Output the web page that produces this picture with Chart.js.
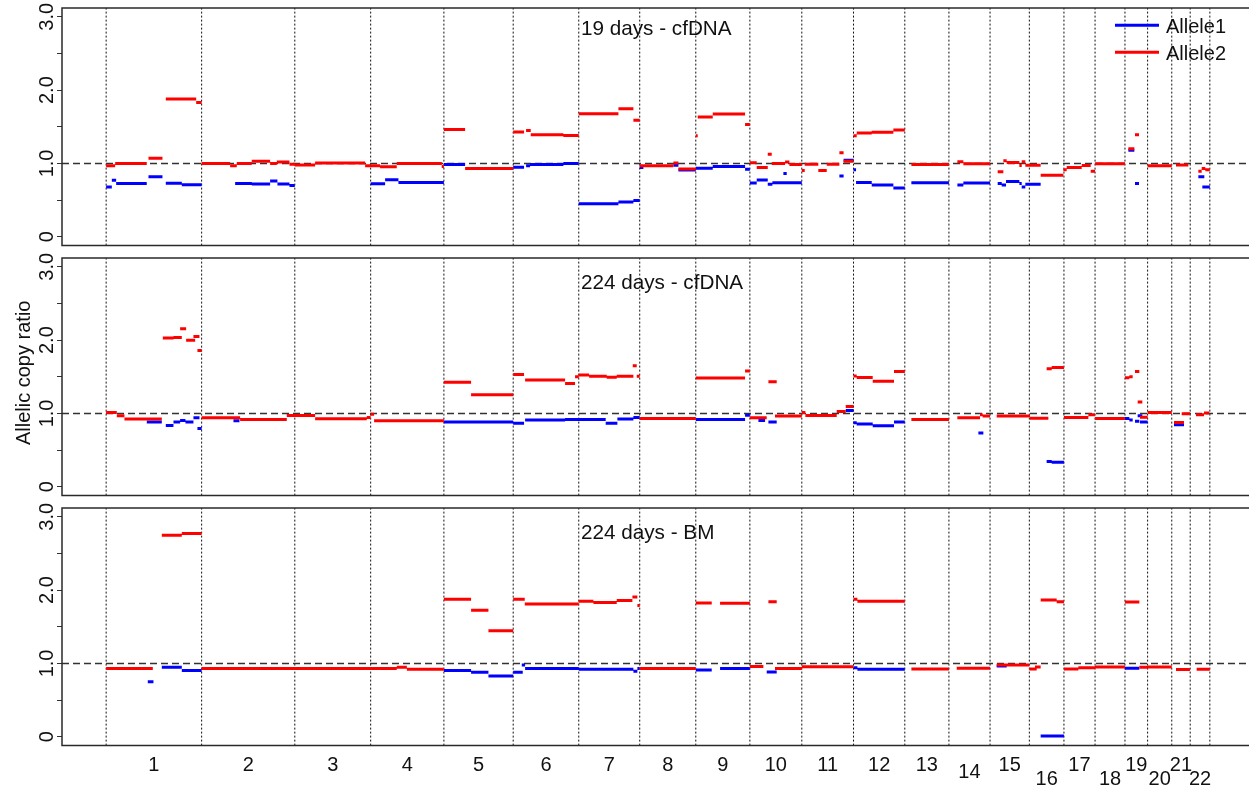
<!DOCTYPE html>
<html><head><meta charset="utf-8">
<script src="https://cdn.jsdelivr.net/npm/chart.js@4.4.1/dist/chart.umd.min.js"></script>
<style>
html,body{margin:0;padding:0;background:#fff;overflow:hidden;}
#wrap{position:relative;width:1249px;height:786px;overflow:hidden;background:#fff;}
canvas{position:absolute;left:0;}
</style></head><body>
<div id="wrap">
<canvas id="p0" width="1262" height="250" style="top:0;width:1262px;height:250px"></canvas>
<canvas id="p1" width="1262" height="250" style="top:250px;width:1262px;height:250px"></canvas>
<canvas id="p2" width="1262" height="286" style="top:500px;width:1262px;height:286px"></canvas>
</div>
<script>
// ---------- data ----------
const chromosomes = ['1','2','3','4','5','6','7','8','9','10','11','12','13','14','15','16','17','18','19','20','21','22'];
const chromLengthsMb = [249.25,243.20,198.02,191.15,180.92,171.12,159.14,146.36,141.21,135.53,135.01,133.85,115.17,107.35,102.53,90.35,81.20,78.08,59.13,63.03,48.13,51.30];
const panelTitles = ['19 days - cfDNA','224 days - cfDNA','224 days - BM'];
const seriesNames = ['Allele1','Allele2'];
const yTickValues = [0,0.5,1,1.5,2,2.5,3];
const yTickLabels = ['0','','1.0','','2.0','','3.0'];
const yAxisTitle = 'Allelic copy ratio';
const referenceRatio = 1.0;

// segments: [genome start Mb, genome end Mb, allelic copy ratio]
const day19_allele1 = [[0,14.8,0.68],[14.8,26.1,0.77],[26.1,106,0.727],[110.5,147,0.818],[155.7,197.5,0.73],[197.5,249.25,0.71],
[336.7,380.2,0.727],[380.2,428,0.72],[428,447.1,0.76],[447.1,478.5,0.72],[478.5,492.45,0.70],
[690.47,728.2,0.723],[728.2,763,0.777],[763,881.62,0.74],
[881.62,937,0.986],
[1062.54,1090.9,0.95],[1096.2,1106.6,0.97],[1106.6,1193.6,0.986],[1193.6,1233.66,1.0],
[1233.66,1337.2,0.45],[1337.2,1376.3,0.473],[1376.3,1392.8,0.495],
[1392.8,1402.4,0.945],[1480.7,1493.8,0.977],[1493.8,1539.16,0.91],
[1539.16,1583.4,0.936],[1583.4,1667.8,0.96],[1667.8,1680.37,0.92],
[1680.37,1698.2,0.732],[1698.2,1727,0.773],[1727,1739.1,0.718],[1739.1,1815.9,0.736],[1767.8,1776.5,0.864],
[1914,1925,0.83],[1925,1950.91,1.045],
[1950.91,1957.5,0.914],[1957.5,1998.4,0.741],[1998.4,2054.9,0.705],[2054.9,2084.76,0.664],
[2101.9,2199.93,0.736],
[2222,2237.6,0.705],[2237.6,2307.28,0.732],
[2327.2,2337.7,0.727],[2337.7,2349,0.705],[2349,2383.8,0.755],[2383.8,2389.9,0.727],[2389.9,2399.4,0.68],[2399.4,2439.4,0.718],
[2668.3,2683.9,1.18],[2685.7,2696.1,0.727],
[2851,2866.6,0.818],[2861.4,2881,0.68]];
const day19_allele2 = [[0,23.5,0.97],[23.5,106,1.0],[110.5,147,1.07],[155.7,235,1.88],[235,249.25,1.83],
[249.25,323.6,1.0],[323.6,341,0.97],[341,380,1.0],[380,428,1.03],[428,445.4,1.0],[445.4,478.5,1.02],[478.5,492.45,0.99],
[492.45,545.5,0.98],[545.5,676,1.005],[676,715,0.97],[715,758.6,0.955],[758.6,876,1.0],[876,881.62,0.96],
[881.62,937,1.464],[937,1062.54,0.93],
[1062.54,1090.9,1.43],[1096.2,1108.3,1.45],[1108.3,1193.6,1.39],[1193.6,1233.66,1.38],
[1233.66,1337.2,1.677],[1337.2,1376.3,1.745],[1376.3,1392.8,1.59],
[1392.8,1480.7,0.968],[1480.7,1493.8,1.005],[1493.8,1539.16,0.923],
[1539.16,1544.2,1.377],[1544.2,1583.4,1.632],[1583.4,1667.8,1.673],[1667.8,1680.37,1.53],
[1680.37,1698.2,1.01],[1698.2,1727,0.945],[1727,1737.4,1.127],[1737.4,1772.2,1.0],[1772.2,1783.5,1.02],[1783.5,1815.9,0.986],
[1815.9,1823.5,0.905],[1823.5,1859,0.99],[1859,1881,0.905],[1881,1914,0.99],[1914,1925,1.145],[1925,1950.91,1.03],
[1950.91,1959.2,1.377],[1959.2,1998.4,1.414],[1998.4,2054.9,1.427],[2054.9,2084.76,1.455],
[2101.9,2199.93,0.986],
[2222,2237.6,1.023],[2237.6,2307.28,0.995],
[2327.2,2342,0.886],[2342,2350.7,1.036],[2350.7,2383.8,1.014],[2383.8,2389.9,0.973],[2389.9,2399.4,1.023],[2399.4,2439.4,0.977],
[2439.4,2498.6,0.84],[2498.6,2507.3,0.914],
[2507.3,2546.5,0.945],[2546.5,2570,0.973],[2570,2581.36,0.895],
[2581.36,2659.44,0.995],
[2668.3,2683.9,1.2],[2685.7,2696.1,1.39],
[2718.57,2781.6,0.968],
[2792.7,2824.9,0.98],
[2851,2859.7,0.895],[2859.7,2869.2,0.93],[2869.2,2881,0.914]];

const day224cf_allele1 = [[106.1,145.3,0.882],[155.7,175.7,0.836],[175.7,193.1,0.882],[193.1,207,0.905],[207,227.9,0.882],[227.9,243.6,0.94],[238.3,249.25,0.795],
[332.3,348,0.9],
[881.62,1062.54,0.882],
[1062.54,1090.9,0.868],[1093.6,1198,0.91],[1198,1233.66,0.918],
[1233.66,1304,0.918],[1304,1334.5,0.868],[1334.5,1376.3,0.923],[1376.3,1392.8,0.945],
[1539.16,1667.8,0.918],[1667.8,1680.37,0.977],
[1702.6,1720,0.905],[1728.7,1750.4,0.882],
[1930.5,1950.91,1.04],
[1950.91,1959.2,0.873],[1959.2,2001,0.855],[2001,2056.6,0.832],[2056.6,2084.76,0.882],
[2276.8,2289.8,0.732],
[2455,2468.2,0.345],[2468.2,2500.16,0.336],
[2659.44,2670.9,0.932],[2670.9,2679.6,0.91],[2685.7,2697,0.895],[2692.6,2704.8,0.968],[2698.7,2718.57,0.882],
[2787.4,2813.5,0.845]];
const day224cf_allele2 = [[0,27.8,1.014],[27.8,47.8,0.968],[47.8,145.3,0.923],[147.9,175.7,2.03],[175.7,197.5,2.036],[193.1,208.8,2.155],[208.8,232.3,2.0],[227.9,243.6,2.05],[238.3,249.25,1.86],
[249.25,349.7,0.94],[349.7,471.5,0.918],[471.5,545.5,0.973],[545.5,680.3,0.927],[680.3,690.47,0.945],
[690.47,699.4,0.99],[699.4,881.62,0.9],
[881.62,952.6,1.427],[952.6,1062.54,1.255],
[1062.54,1090.9,1.532],[1093.6,1198,1.455],[1198,1224,1.41],[1224,1233.66,1.5],
[1233.66,1260.6,1.523],[1260.6,1306.7,1.509],[1306.7,1332.8,1.495],[1332.8,1376.3,1.509],[1374.6,1385,1.65],[1385,1392.8,1.509],
[1392.8,1539.16,0.932],
[1539.16,1667.8,1.482],[1667.8,1680.37,1.58],
[1680.37,1724.3,0.94],[1728.7,1750.4,1.432],[1746,1815.9,0.964],
[1815.9,1825.2,1.014],[1825.2,1907,0.973],[1907,1930.5,1.027],[1930.5,1950.91,1.095],
[1950.91,1959.2,1.51],[1959.2,2001,1.49],[2001,2056.6,1.44],[2056.6,2084.76,1.573],
[2101.9,2199.93,0.918],
[2221.9,2281.1,0.94],[2281.1,2288,0.982],[2288,2307.28,0.964],
[2324.6,2411.6,0.964],[2411.6,2459.5,0.936],[2455,2468.2,1.61],[2468.2,2500.16,1.627],
[2500.16,2563.9,0.945],[2563.9,2581.36,0.982],
[2581.36,2659.44,0.932],
[2659.44,2670.9,1.486],[2670.9,2679.6,1.5],[2685.7,2697,1.573],[2692.6,2704.8,1.155],[2698.7,2718.57,0.95],
[2718.57,2781.6,1.014],
[2787.4,2813.5,0.877],[2807.5,2829.1,0.995],
[2844.9,2865.7,0.982],[2865.7,2879.7,1.005]];

const day224bm_allele1 = [[108.7,123.5,0.752],[145.3,197.5,0.948],[197.5,249.25,0.903],
[881.62,952.6,0.903],[952.6,997.9,0.88],[997.9,1062.54,0.83],
[1062.54,1087.5,0.88],[1084.9,1093.6,0.98],[1093.6,1233.66,0.93],
[1233.66,1376.3,0.92],[1376.3,1386.7,0.894],[1386.7,1392.8,0.93],
[1539.16,1580.8,0.912],[1602.5,1680.37,0.93],
[1724.3,1750.4,0.885],
[1950.91,1961,0.94],[1961,2084.76,0.92],
[2324.6,2350.7,0.967],
[2439.4,2500.16,0.01],
[2659.44,2697,0.935]];
const day224bm_allele2 = [[0,121.8,0.93],[145.3,197.5,2.75],[197.5,249.25,2.772],
[249.25,758.6,0.93],[758.6,785,0.948],[785,881.62,0.92],
[881.62,952.6,1.874],[952.6,997.9,1.724],[997.9,1062.54,1.446],
[1062.54,1092.7,1.874],[1092.7,1233.66,1.81],
[1233.66,1271.9,1.85],[1271.9,1332.8,1.833],[1332.8,1373.7,1.86],[1373.7,1386.7,1.906],[1386.7,1392.8,1.79],
[1392.8,1539.16,0.93],
[1539.16,1580.8,1.824],[1602.5,1680.37,1.82],
[1680.37,1715.6,0.958],[1728.7,1750.4,1.842],[1746,1815.9,0.93],
[1815.9,1950.91,0.955],
[1950.91,1961,1.874],[1961,2084.76,1.85],
[2101.9,2199.93,0.925],
[2220.2,2307.28,0.935],
[2324.6,2409.81,0.98],
[2409.81,2429,0.925],[2424.7,2439.4,0.953],[2439.4,2481.2,1.865],[2481.2,2500.16,1.842],
[2500.16,2537.8,0.925],[2537.8,2581.36,0.94],
[2581.36,2659.44,0.953],
[2659.44,2697,1.838],[2697,2718.57,0.948],
[2718.57,2781.6,0.953],
[2792.7,2829.1,0.917],
[2846.6,2881,0.92]];

// ---------- derived ----------
const FONT = '"Liberation Sans", Arial, Helvetica, sans-serif';
const chromStarts = [];
let acc = 0;
for (const L of chromLengthsMb) { chromStarts.push(acc); acc += L; }
const genomeLen = acc;
const boundaries = chromStarts.concat([genomeLen]);
const xMin = -0.04 * genomeLen, xMax = 1.04 * genomeLen;
const yMin = -0.12, yMax = 3.12;
const COL1 = '#0000FF', COL2 = '#FF0000';

function segPoints(segs) {
  const pts = [];
  for (const [s, e, v] of segs) { pts.push({x: s, y: v}, {x: e, y: v}, {x: e, y: null}); }
  return pts;
}
function vlinePoints(xs) {
  const pts = [];
  for (const xv of xs) { pts.push({x: xv, y: yMin}, {x: xv, y: yMax}, {x: xv, y: null}); }
  return pts;
}

function makePanel(id, idx, a1, a2) {
  const canvas = document.getElementById(id);
  const H = canvas.height;
  const decor = {
    id: 'decor' + idx,
    afterDraw(chart) {
      const ctx = chart.ctx, a = chart.chartArea, xs = chart.scales.x, ys = chart.scales.y;
      ctx.save();
      // frame (right side lies outside the visible page, as in the original crop)
      ctx.strokeStyle = '#2a2a2a';
      ctx.lineWidth = 1.5;
      ctx.beginPath();
      ctx.moveTo(chart.width, a.top); ctx.lineTo(a.left, a.top);
      ctx.lineTo(a.left, a.bottom); ctx.lineTo(chart.width, a.bottom);
      ctx.stroke();
      // y tick labels (rotated)
      ctx.fillStyle = '#111';
      ctx.font = '20px ' + FONT;
      ctx.textAlign = 'center';
      ctx.textBaseline = 'alphabetic';
      yTickValues.forEach((v, i) => {
        if (!yTickLabels[i]) return;
        ctx.save();
        ctx.translate(a.left - 9.5, ys.getPixelForValue(v));
        ctx.rotate(-Math.PI / 2);
        ctx.fillText(yTickLabels[i], 0, 0);
        ctx.restore();
      });
      // panel title
      ctx.save();
      ctx.font = '20.7px ' + FONT;
      ctx.textAlign = 'left';
      ctx.fillText(panelTitles[idx], 581, a.top + (idx === 0 ? 27 : 31));
      ctx.restore();
      // y axis title on middle panel
      if (idx === 1) {
        ctx.save();
        ctx.translate(29.5, ys.getPixelForValue(1.5) - 4);
        ctx.rotate(-Math.PI / 2);
        ctx.textAlign = 'center';
        ctx.fillText(yAxisTitle, 0, 0);
        ctx.restore();
      }
      // legend on top panel
      if (idx === 0) {
        const cols = [COL1, COL2];
        seriesNames.forEach((n, i) => {
          const yy = 25.3 + i * 27;
          ctx.strokeStyle = cols[i];
          ctx.lineWidth = 3;
          ctx.beginPath(); ctx.moveTo(1115, yy); ctx.lineTo(1159, yy); ctx.stroke();
          ctx.fillStyle = '#111';
          ctx.textAlign = 'left';
          ctx.fillText(n, 1166, yy + 7.5);
        });
      }
      // chromosome labels on bottom panel
      if (idx === 2) {
        const drop = {'14': 7, '16': 14, '18': 14, '20': 14, '22': 14};
        ctx.textAlign = 'center';
        ctx.fillStyle = '#111';
        chromosomes.forEach((c, i) => {
          const cx = xs.getPixelForValue(chromStarts[i] + chromLengthsMb[i] / 2);
          ctx.fillText(c, cx, a.bottom + 25.5 + (drop[c] || 0));
        });
      }
      ctx.restore();
    }
  };
  return new Chart(canvas, {
    type: 'line',
    data: {
      datasets: [
        {label: seriesNames[1], data: segPoints(a2), borderColor: COL2, borderWidth: 3, pointRadius: 0, borderCapStyle: 'butt', spanGaps: false, order: 1},
        {label: seriesNames[0], data: segPoints(a1), borderColor: COL1, borderWidth: 3, pointRadius: 0, borderCapStyle: 'butt', spanGaps: false, order: 2},
        {label: 'ref', data: [{x: xMin, y: referenceRatio}, {x: xMax, y: referenceRatio}], borderColor: '#333', borderWidth: 1.5, borderDash: [7, 4], pointRadius: 0, order: 3},
        {label: 'chrom', data: vlinePoints(boundaries), borderColor: '#111', borderWidth: 1, borderDash: [2, 2], pointRadius: 0, spanGaps: false, order: 4}
      ]
    },
    options: {
      responsive: false, animation: false, devicePixelRatio: 1, events: [],
      layout: {padding: {left: 0, right: 8, top: 8, bottom: H - 245.6}},
      plugins: {legend: {display: false}, tooltip: {enabled: false}},
      elements: {line: {tension: 0}},
      scales: {
        x: {type: 'linear', min: xMin, max: xMax, display: false},
        y: {
          type: 'linear', min: yMin, max: yMax, position: 'left',
          afterBuildTicks: s => { s.ticks = yTickValues.map(v => ({value: v})); },
          afterFit: s => { s.width = 62; },
          ticks: {display: false},
          grid: {drawOnChartArea: false, drawTicks: true, tickLength: 5, tickColor: '#333', tickWidth: 1},
          border: {display: false}
        }
      }
    },
    plugins: [decor]
  });
}

makePanel('p0', 0, day19_allele1, day19_allele2);
makePanel('p1', 1, day224cf_allele1, day224cf_allele2);
makePanel('p2', 2, day224bm_allele1, day224bm_allele2);
</script>
</body></html>
